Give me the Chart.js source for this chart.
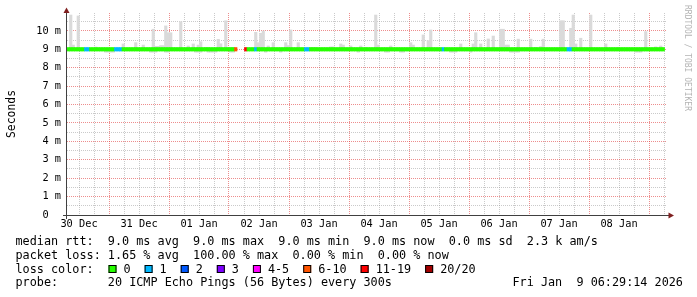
<!DOCTYPE html>
<html lang="en">
<head>
<meta charset="UTF-8">
<title>SmokePing latency - last 10 days</title>
<script src="https://cdn.jsdelivr.net/npm/chart.js"></script>
<style>
  html, body { margin: 0; padding: 0; background: #fff; }
  #wrap { width: 697px; height: 297px; position: relative; }
</style>
</head>
<body>
<div id="wrap"><canvas id="rtt"></canvas></div>
<script>
// ---- data ----
const dayLabels = ['30 Dec', '31 Dec', '01 Jan', '02 Jan', '03 Jan', '04 Jan', '05 Jan', '06 Jan', '07 Jan', '08 Jan'];

const lossBuckets = ['0', '1', '2', '3', '4-5', '6-10', '11-19', '20/20'];
const lossLimits  = [0, 1, 2, 3, 5, 10, 19, 20];
const lossColors  = ['#26ff00', '#00b8ff', '#0059ff', '#7e00ff', '#ff00ff', '#ff5500', '#ff0000', '#a10000'];

// one value per hour, 240 hours (ms)
const medianRtt = [
  9.0, 9.0, 9.0, 9.0, 9.0, 9.0, 9.0, 9.0, 9.0, 9.0, 9.0, 9.0, 9.0, 9.0, 9.0, 9.0, 9.0, 9.0, 9.0, 9.0, 9.0, 9.0, 9.0, 9.0,
  9.0, 9.0, 9.0, 9.0, 9.0, 9.0, 9.0, 9.0, 9.0, 9.0, 9.0, 9.0, 9.0, 9.0, 9.0, 9.0, 9.0, 9.0, 9.0, 9.0, 9.0, 9.0, 9.0, 9.0,
  9.0, 9.0, 9.0, 9.0, 9.0, 9.0, 9.0, 9.0, 9.0, 9.0, 9.0, 9.0, 9.0, 9.0, 9.0, 9.0, 9.0, 9.0, 9.0, 9.0, null, null, null, 9.0,
  9.0, 9.0, 9.0, 9.0, 9.0, 9.0, 9.0, 9.0, 9.0, 9.0, 9.0, 9.0, 9.0, 9.0, 9.0, 9.0, 9.0, 9.0, 9.0, 9.0, 9.0, 9.0, 9.0, 9.0,
  9.0, 9.0, 9.0, 9.0, 9.0, 9.0, 9.0, 9.0, 9.0, 9.0, 9.0, 9.0, 9.0, 9.0, 9.0, 9.0, 9.0, 9.0, 9.0, 9.0, 9.0, 9.0, 9.0, 9.0,
  9.0, 9.0, 9.0, 9.0, 9.0, 9.0, 9.0, 9.0, 9.0, 9.0, 9.0, 9.0, 9.0, 9.0, 9.0, 9.0, 9.0, 9.0, 9.0, 9.0, 9.0, 9.0, 9.0, 9.0,
  9.0, 9.0, 9.0, 9.0, 9.0, 9.0, 9.0, 9.0, 9.0, 9.0, 9.0, 9.0, 9.0, 9.0, 9.0, 9.0, 9.0, 9.0, 9.0, 9.0, 9.0, 9.0, 9.0, 9.0,
  9.0, 9.0, 9.0, 9.0, 9.0, 9.0, 9.0, 9.0, 9.0, 9.0, 9.0, 9.0, 9.0, 9.0, 9.0, 9.0, 9.0, 9.0, 9.0, 9.0, 9.0, 9.0, 9.0, 9.0,
  9.0, 9.0, 9.0, 9.0, 9.0, 9.0, 9.0, 9.0, 9.0, 9.0, 9.0, 9.0, 9.0, 9.0, 9.0, 9.0, 9.0, 9.0, 9.0, 9.0, 9.0, 9.0, 9.0, 9.0,
  9.0, 9.0, 9.0, 9.0, 9.0, 9.0, 9.0, 9.0, 9.0, 9.0, 9.0, 9.0, 9.0, 9.0, 9.0, 9.0, 9.0, 9.0, 9.0, 9.0, 9.0, 9.0, 9.0, null
];

const smokeLow = [
  8.95, 8.95, 8.95, 8.95, 8.95, 8.95, 8.95, 8.95, 8.95, 8.95, 8.95, 8.95, 8.95, 8.95, 8.95, 8.84, 8.84, 8.84, 8.84, 8.95, 8.95, 8.95, 8.95, 8.95,
  8.95, 8.95, 8.95, 8.95, 8.95, 8.95, 8.95, 8.95, 8.95, 8.84, 8.84, 8.84, 8.95, 8.95, 8.95, 8.84, 8.84, 8.95, 8.95, 8.95, 8.95, 8.95, 8.95, 8.95,
  8.95, 8.95, 8.95, 8.84, 8.84, 8.84, 8.95, 8.95, 8.84, 8.84, 8.84, 8.84, 8.95, 8.95, 8.95, 8.95, 8.95, 8.84, 8.84, 8.95, null, null, null, 8.95,
  8.95, 8.95, 8.95, 8.95, 8.95, 8.95, 8.95, 8.84, 8.95, 8.95, 8.95, 8.95, 8.95, 8.84, 8.95, 8.95, 8.95, 8.95, 8.95, 8.95, 8.95, 8.95, 8.95, 8.95,
  8.95, 8.95, 8.95, 8.95, 8.95, 8.95, 8.95, 8.95, 8.95, 8.95, 8.95, 8.95, 8.95, 8.95, 8.95, 8.95, 8.95, 8.95, 8.95, 8.95, 8.84, 8.95, 8.95, 8.95,
  8.95, 8.95, 8.95, 8.95, 8.95, 8.95, 8.95, 8.84, 8.84, 8.95, 8.95, 8.95, 8.95, 8.84, 8.84, 8.95, 8.95, 8.95, 8.95, 8.95, 8.95, 8.95, 8.95, 8.95,
  8.95, 8.95, 8.95, 8.95, 8.95, 8.95, 8.95, 8.95, 8.95, 8.84, 8.84, 8.84, 8.95, 8.95, 8.95, 8.95, 8.95, 8.84, 8.95, 8.95, 8.95, 8.95, 8.95, 8.95,
  8.95, 8.95, 8.95, 8.95, 8.95, 8.95, 8.95, 8.95, 8.95, 8.84, 8.84, 8.84, 8.84, 8.95, 8.95, 8.95, 8.95, 8.95, 8.95, 8.95, 8.95, 8.95, 8.95, 8.95,
  8.95, 8.95, 8.95, 8.95, 8.95, 8.95, 8.95, 8.95, 8.95, 8.95, 8.95, 8.95, 8.95, 8.95, 8.95, 8.95, 8.95, 8.95, 8.95, 8.95, 8.95, 8.95, 8.95, 8.95,
  8.95, 8.95, 8.95, 8.95, 8.95, 8.95, 8.95, 8.95, 8.95, 8.95, 8.95, 8.84, 8.84, 8.84, 8.95, 8.95, 8.95, 8.95, 8.95, 8.95, 8.95, 8.95, 8.95, null
];

const smokeHigh = [
  9.05, 10.86, 9.23, 9.05, 10.81, 9.05, 9.05, 9.05, 9.05, 9.05, 9.05, 9.12, 9.05, 9.05, 9.05, 9.05, 9.05, 9.05, 9.05, 9.05, 9.05, 9.05, 9.29, 9.05,
  9.05, 9.05, 9.05, 9.36, 9.05, 9.05, 9.23, 9.05, 9.05, 9.05, 10.09, 9.16, 9.16, 9.2, 9.2, 10.27, 9.9, 9.9, 9.05, 9.05, 9.05, 10.5, 9.05, 9.05,
  9.18, 9.05, 9.29, 9.05, 9.23, 9.41, 9.05, 9.1, 9.1, 9.05, 9.05, 9.05, 9.54, 9.3, 9.05, 10.55, 9.05, 9.1, 9.1, 9.05, null, null, null, 9.05,
  9.05, 9.05, 9.05, 9.92, 9.36, 9.87, 9.99, 9.05, 9.18, 9.05, 9.36, 9.05, 9.05, 9.05, 9.05, 9.36, 9.2, 10.05, 9.05, 9.05, 9.36, 9.05, 9.05, 9.05,
  9.05, 9.1, 9.1, 9.1, 9.05, 9.05, 9.05, 9.05, 9.05, 9.13, 9.13, 9.05, 9.05, 9.29, 9.23, 9.05, 9.05, 9.18, 9.05, 9.05, 9.05, 9.18, 9.05, 9.1,
  9.05, 9.05, 9.05, 10.86, 9.23, 9.05, 9.05, 9.05, 9.05, 9.18, 9.05, 9.05, 9.05, 9.05, 9.05, 9.05, 9.05, 9.36, 9.23, 9.05, 9.05, 9.05, 9.78, 9.05,
  9.47, 10.05, 9.05, 9.05, 9.05, 9.05, 9.05, 9.05, 9.05, 9.05, 9.05, 9.05, 9.05, 9.29, 9.05, 9.05, 9.05, 9.05, 9.29, 9.9, 9.05, 9.29, 9.05, 9.05,
  9.56, 9.05, 9.72, 9.05, 9.05, 10.09, 10.09, 9.23, 9.23, 9.05, 9.05, 9.05, 9.55, 9.05, 9.05, 9.05, 9.05, 9.55, 9.05, 9.1, 9.05, 9.15, 9.55, 9.05,
  9.05, 9.05, 9.05, 9.05, 9.05, 10.55, 10.55, 9.05, 9.05, 10.14, 10.86, 9.29, 9.05, 9.6, 9.05, 9.05, 9.05, 10.86, 9.05, 9.05, 9.05, 9.05, 9.05, 9.29,
  9.05, 9.05, 9.05, 9.05, 9.1, 9.05, 9.05, 9.05, 9.05, 9.05, 9.05, 9.05, 9.05, 9.05, 9.05, 9.96, 9.05, 9.05, 9.05, 9.13, 9.05, 9.18, 9.05, null
];

// lost pings out of 20, per hour
const lossCount = [
  0, 0, 0, 0, 0, 0, 0, 1, 1, 0, 0, 0, 0, 0, 0, 0, 0, 0, 0, 1, 1, 1, 0, 0,
  0, 0, 0, 0, 0, 0, 0, 0, 0, 0, 0, 0, 0, 0, 0, 0, 0, 0, 0, 0, 0, 0, 0, 0,
  0, 0, 0, 0, 0, 0, 0, 0, 0, 0, 0, 0, 0, 0, 0, 0, 0, 0, 0, 8, 20, 20, 20, 15,
  0, 0, 0, 1, 0, 0, 0, 0, 0, 0, 0, 0, 0, 0, 0, 0, 0, 0, 0, 0, 0, 0, 0, 1,
  1, 0, 0, 0, 0, 0, 0, 0, 0, 0, 0, 0, 0, 0, 0, 0, 0, 0, 0, 0, 0, 0, 0, 0,
  0, 0, 0, 0, 0, 0, 0, 0, 0, 0, 0, 0, 0, 0, 0, 0, 0, 0, 0, 0, 0, 0, 0, 0,
  0, 0, 0, 0, 0, 0, 1, 0, 0, 0, 0, 0, 0, 0, 0, 0, 0, 0, 0, 0, 0, 0, 0, 0,
  0, 0, 0, 0, 0, 0, 0, 0, 0, 0, 0, 0, 0, 0, 0, 0, 0, 0, 0, 0, 0, 0, 0, 0,
  0, 0, 0, 0, 0, 0, 0, 0, 1, 1, 0, 0, 0, 0, 0, 0, 0, 0, 0, 0, 0, 0, 0, 0,
  0, 0, 0, 0, 0, 0, 0, 0, 0, 0, 0, 0, 0, 0, 0, 0, 0, 0, 0, 0, 0, 0, 0, 0
];

const statLines = [
  'median rtt:  9.0 ms avg  9.0 ms max  9.0 ms min  9.0 ms now  0.0 ms sd  2.3 k am/s',
  'packet loss: 1.65 % avg  100.00 % max  0.00 % min  0.00 % now'
];
const probeText = 'probe:       20 ICMP Echo Pings (56 Bytes) every 300s';
const stampText = 'Fri Jan  9 06:29:14 2026';
const sideText = 'RRDTOOL / TOBI OETIKER';

// ---- layout ----
const START = 7.2;          // hours after 30 Dec 00:00 at the left edge
const HOURS = 240;
const BAND = 0.095;         // half height of the median band (ms)
const MONO = '"DejaVu Sans Mono", monospace';
const GRID = 'rgba(150,150,150,0.5)';
const MGRID = 'rgba(222,48,48,0.55)';

// grid positions: every 6 h across, every 0.5 ms up
const xTickHours = [];
for (let h = 12; h <= START + HOURS; h += 6) xTickHours.push(h);
const yTickMs = [];
for (let k = 0; k <= 21; k++) yTickMs.push(k / 2);

const xGridColors = xTickHours.map(h => (h % 24 === 0 ? MGRID : GRID));
const yGridColors = yTickMs.map(v => (v === 0 ? 'rgba(0,0,0,0)' : (v % 1 === 0 ? MGRID : GRID)));

function lossColor(n) {
  const k = lossLimits.findIndex(l => n <= l);
  return lossColors[k < 0 ? lossColors.length - 1 : k];
}

const smokePts = [];
const medianPts = [];
for (let i = 0; i < HOURS; i++) {
  const x = START + i + 0.5;
  if (smokeHigh[i] != null) smokePts.push({x: x, y: [smokeLow[i], smokeHigh[i]]});
  if (medianRtt[i] != null) medianPts.push({x: x, y: [medianRtt[i] - BAND, medianRtt[i] + BAND], loss: lossCount[i]});
}

const decor = {
  id: 'decor',
  afterDatasetsDraw(chart) {
    const {ctx, chartArea: a} = chart;
    ctx.save();
    ctx.strokeStyle = '#404040';
    ctx.lineWidth = 1;
    ctx.beginPath();
    ctx.moveTo(a.left - 4, a.bottom + 0.5);
    ctx.lineTo(a.right + 3, a.bottom + 0.5);
    ctx.moveTo(a.left - 0.5, a.bottom + 4);
    ctx.lineTo(a.left - 0.5, a.top - 3);
    ctx.stroke();
    ctx.fillStyle = '#7f1f1f';
    ctx.beginPath();
    ctx.moveTo(a.left - 0.5, a.top - 5.5);
    ctx.lineTo(a.left - 3.5, a.top);
    ctx.lineTo(a.left + 2.5, a.top);
    ctx.closePath();
    ctx.fill();
    ctx.beginPath();
    ctx.moveTo(a.right + 7, a.bottom + 0.5);
    ctx.lineTo(a.right + 1.5, a.bottom - 2.5);
    ctx.lineTo(a.right + 1.5, a.bottom + 3.5);
    ctx.closePath();
    ctx.fill();
    ctx.restore();
  },
  afterDraw(chart) {
    const {ctx} = chart;
    ctx.save();
    ctx.fillStyle = '#000';
    ctx.font = '11.8px ' + MONO;
    ctx.textBaseline = 'alphabetic';
    ctx.textAlign = 'left';
    ctx.fillText(statLines[0], 15.5, 245.3);
    ctx.fillText(statLines[1], 15.5, 259);
    ctx.fillText('loss color:', 15.5, 272.7);
    let bx = 108.5;
    lossBuckets.forEach((label, k) => {
      ctx.fillStyle = lossColors[k];
      ctx.fillRect(bx, 265, 8, 8);
      ctx.strokeStyle = '#000';
      ctx.lineWidth = 1;
      ctx.strokeRect(bx + 0.5, 265.5, 7, 7);
      ctx.fillStyle = '#000';
      const lx = bx + 15;
      ctx.fillText(label, lx, 272.7);
      bx = lx + ctx.measureText(label).width + 14;
    });
    ctx.fillText(probeText, 15.5, 286.3);
    ctx.fillText(stampText, 512.5, 286.3);

    ctx.fillStyle = '#b4b4b4';
    ctx.font = '8px ' + MONO;
    ctx.textBaseline = 'middle';
    ctx.translate(687.5, 5);
    ctx.rotate(Math.PI / 2);
    ctx.fillText(sideText, 0, 0);
    ctx.restore();
  }
};

new Chart(document.getElementById('rtt'), {
  type: 'bar',
  data: {
    datasets: [
      {
        label: 'median rtt',
        data: medianPts,
        backgroundColor: ctx => lossColor(ctx.raw ? ctx.raw.loss : 0),
        borderWidth: 0,
        grouped: false,
        barPercentage: 1,
        categoryPercentage: 1,
        order: 0
      },
      {
        label: 'smoke',
        data: smokePts,
        backgroundColor: '#dadada',
        borderWidth: 0,
        grouped: false,
        barPercentage: 1,
        categoryPercentage: 1,
        order: 1
      }
    ]
  },
  options: {
    responsive: true,
    maintainAspectRatio: false,
    animation: false,
    events: [],
    layout: { padding: { left: 0, top: 13, right: 30, bottom: 62 } },
    plugins: {
      legend: { display: false },
      tooltip: { enabled: false },
      title: { display: false }
    },
    scales: {
      x: {
        type: 'linear',
        offset: false,
        min: START,
        max: START + HOURS,
        afterBuildTicks: scale => { scale.ticks = xTickHours.map(h => ({value: h})); },
        afterFit: scale => { scale.height = 20; },
        ticks: {
          autoSkip: false,
          maxRotation: 0,
          padding: 3,
          color: '#000',
          font: { family: MONO, size: 10.3 },
          callback: v => (v % 24 === 12 ? dayLabels[(v - 12) / 24] : '')
        },
        grid: {
          offset: false,
          drawTicks: false,
          lineWidth: 1,
          color: xGridColors
        },
        border: { display: false, dash: [1, 1] }
      },
      y: {
        min: 0,
        max: 10.97,
        afterBuildTicks: scale => { scale.ticks = yTickMs.map(v => ({value: v})); },
        afterFit: scale => { scale.width = 67; },
        ticks: {
          autoSkip: false,
          padding: 6,
          color: '#000',
          font: { family: MONO, size: 10.3 },
          callback: v => (v % 1 === 0 ? (v === 0 ? '0  ' : v + ' m') : '')
        },
        grid: {
          drawTicks: false,
          lineWidth: 1,
          color: yGridColors
        },
        border: { display: false, dash: [1, 1] },
        title: {
          display: true,
          text: 'Seconds',
          color: '#000',
          font: { family: MONO, size: 11.4 },
          padding: { top: 5, bottom: 0 }
        }
      }
    }
  },
  plugins: [decor]
});
</script>
</body>
</html>
